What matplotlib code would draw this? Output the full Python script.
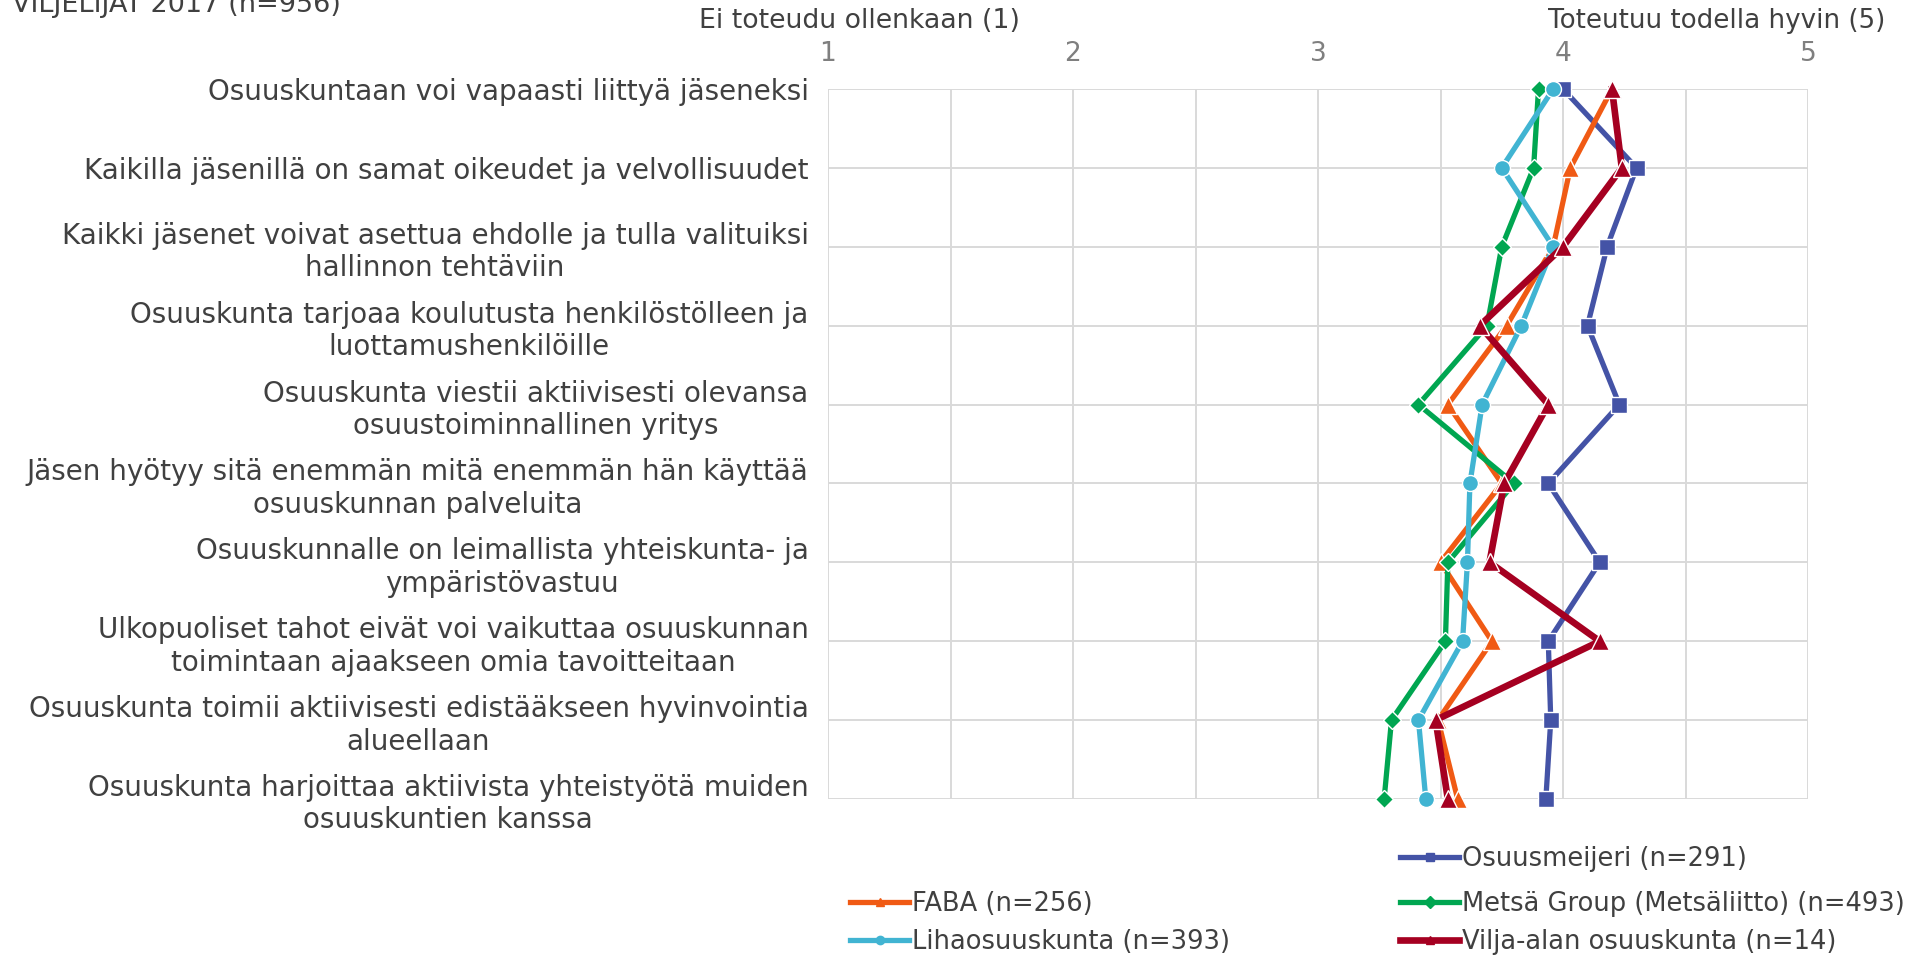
import matplotlib
matplotlib.use("Agg")
import matplotlib.pyplot as plt
from matplotlib.lines import Line2D

plt.rcParams['font.family'] = ['DejaVu Sans']

categories = [
    "Osuuskuntaan voi vapaasti liittyä jäseneksi",
    "Kaikilla jäsenillä on samat oikeudet ja velvollisuudet",
    "Kaikki jäsenet voivat asettua ehdolle ja tulla valituiksi\nhallinnon tehtäviin",
    "Osuuskunta tarjoaa koulutusta henkilöstölleen ja\nluottamushenkilöille",
    "Osuuskunta viestii aktiivisesti olevansa\nosuustoiminnallinen yritys",
    "Jäsen hyötyy sitä enemmän mitä enemmän hän käyttää\nosuuskunnan palveluita",
    "Osuuskunnalle on leimallista yhteiskunta- ja\nympäristövastuu",
    "Ulkopuoliset tahot eivät voi vaikuttaa osuuskunnan\ntoimintaan ajaakseen omia tavoitteitaan",
    "Osuuskunta toimii aktiivisesti edistääkseen hyvinvointia\nalueellaan",
    "Osuuskunta harjoittaa aktiivista yhteistyötä muiden\nosuuskuntien kanssa",
]

osuusmeijeri = [4.00, 4.30, 4.18, 4.10, 4.23, 3.94, 4.15, 3.94, 3.95, 3.93]
faba         = [4.20, 4.03, 3.96, 3.77, 3.53, 3.75, 3.50, 3.71, 3.49, 3.57]
metsa        = [3.90, 3.88, 3.75, 3.69, 3.41, 3.80, 3.53, 3.52, 3.30, 3.27]
liha         = [3.96, 3.75, 3.96, 3.83, 3.67, 3.62, 3.61, 3.59, 3.41, 3.44]
vilja        = [4.20, 4.24, 4.00, 3.66, 3.94, 3.76, 3.70, 4.15, 3.48, 3.53]

labels = ["Osuusmeijeri (n=291)", "FABA (n=256)", "Metsä Group (Metsäliitto) (n=493)",
          "Lihaosuuskunta (n=393)", "Vilja-alan osuuskunta (n=14)"]
xtick_vals = [1, 2, 3, 4, 5]

rows = list(range(1, len(categories) + 1))

fig = plt.figure(figsize=(19.13, 9.56), dpi=100)
ax = fig.add_axes([828/1913, 1 - 799/956, 980/1913, 710/956])

txt = '#404040'
series = [
    (osuusmeijeri, '#4453A6', 's', 11.5, 3.8),
    (faba,         '#F05A14', '^', 12.5, 3.8),
    (metsa,        '#00A651', 'D', 9.5, 3.8),
    (liha,         '#41B4D2', 'o', 11.5, 3.8),
    (vilja,        '#A50021', '^', 13.5, 4.8),
]
handles = []
for (vals, col, mk, ms, lw), lab in zip(series, labels):
    h, = ax.plot(vals, rows, color=col, marker=mk, markersize=ms, lw=lw,
                 markeredgecolor='white', markeredgewidth=1.0, clip_on=False,
                 label=lab, zorder=3)
    handles.append(h)

ax.set_xlim(1, 5)
ax.set_ylim(10, 1)
ax.set_xticks(xtick_vals)
ax.set_xticks([1.5, 2.5, 3.5, 4.5], minor=True)
ax.grid(True, which='both', axis='x', color='#D9D9D9', lw=1.4)
ax.grid(True, which='major', axis='y', color='#D9D9D9', lw=1.4)
ax.set_axisbelow(True)
for s in ax.spines.values():
    s.set_visible(False)
ax.xaxis.tick_top()
ax.tick_params(axis='x', which='both', length=0, pad=16, labelsize=19, labelcolor='#7F7F7F')
ax.set_xticklabels([str(v) for v in xtick_vals])
ax.set_yticks(rows)
ax.set_yticklabels(categories)
ax.tick_params(axis='y', length=0, pad=14, labelsize=20, labelcolor=txt)
for t in ax.get_yticklabels():
    t.set_multialignment('center')

fig.text(12/1913, 1 - 3/956, "VILJELIJÄT 2017 (n=956)", fontsize=19.5, color=txt, va='center', ha='left')
fig.text(699/1913, 1 - 21/956, "Ei toteudu ollenkaan (1)", fontsize=19.3, color=txt, va='center', ha='left')
fig.text(1885/1913, 1 - 21/956, "Toteutuu todella hyvin (5)", fontsize=18.8, color=txt, va='center', ha='right')

def make_handle(h):
    return Line2D([0], [0], color=h.get_color(), lw=h.get_linewidth(), marker=h.get_marker(),
                  markersize=6, markeredgecolor=h.get_color())

leg_pos = [(1400, 859), (850, 904), (1400, 904), (850, 942), (1400, 942)]
for h, lab, (px, py) in zip(handles, labels, leg_pos):
    lg = fig.legend([make_handle(h)], [lab], loc='center left',
                    bbox_to_anchor=(px/1913, 1 - py/956), frameon=False,
                    fontsize=18.5, handlelength=2.3, handletextpad=0.1,
                    borderpad=0, borderaxespad=0)
    for t in lg.get_texts():
        t.set_color(txt)

fig.savefig("out.png", dpi=100)
